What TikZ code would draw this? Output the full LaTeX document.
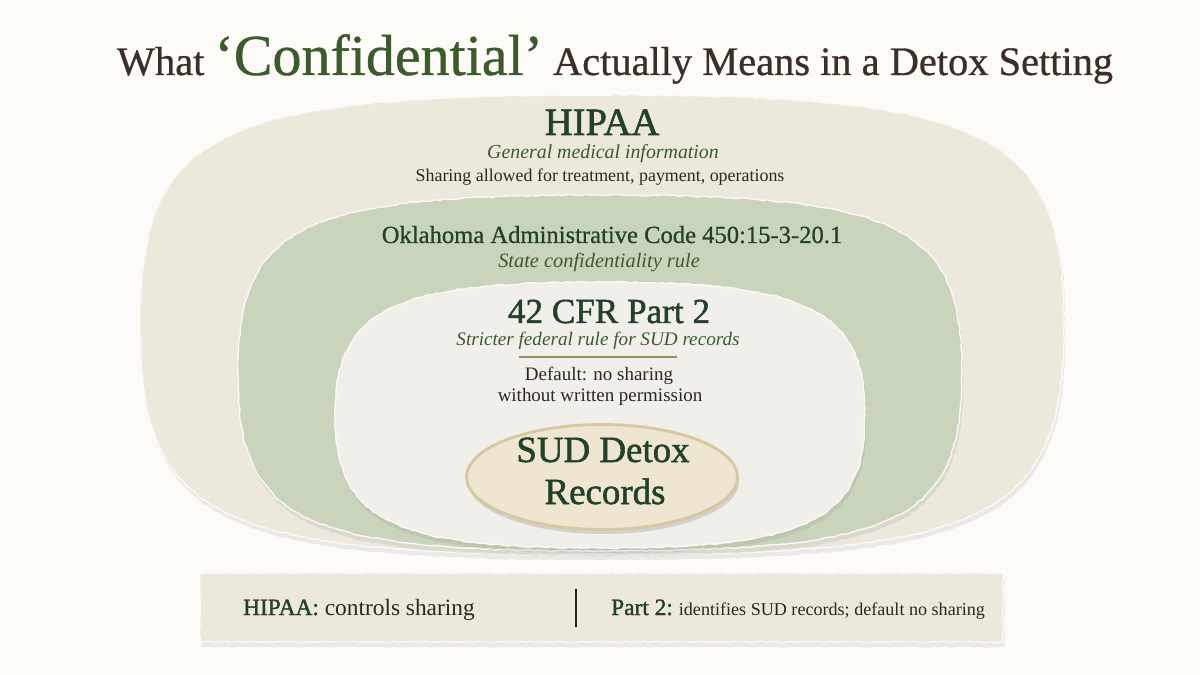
\documentclass[tikz,border=0pt]{standalone}
\usepackage{fontspec}
\setmainfont{Liberation Serif}
\newfontfamily\heavy{Liberation Serif}[FakeBold=1.4]
\newfontfamily\halfheavy{Liberation Serif}[FakeBold=0.7]
\usetikzlibrary{shapes.geometric,shadows,decorations.pathmorphing}

\definecolor{backdrop}{HTML}{FCFBF8}
\definecolor{cream}{HTML}{ECE8DC}
\definecolor{sage}{HTML}{C9D4BC}
\definecolor{pale}{HTML}{F1EFEA}
\definecolor{wheat}{HTML}{EFE6D2}
\definecolor{rim}{HTML}{D8C79F}
\definecolor{forest}{HTML}{22402A}
\definecolor{leaf}{HTML}{3C5A2E}
\definecolor{ink}{HTML}{2B2823}
\definecolor{umber}{HTML}{3B2E24}
\definecolor{olive}{HTML}{9A8C5E}

% squarish oval: centre x, centre y, half width, half height, squareness
\newcommand\blobpath[5]{(#1+#3,#2) .. controls (#1+#3,#2+#5*#4) and (#1+#5*#3,#2+#4) .. (#1,#2+#4)
  .. controls (#1-#5*#3,#2+#4) and (#1-#3,#2+#5*#4) .. (#1-#3,#2)
  .. controls (#1-#3,#2-#5*#4) and (#1-#5*#3,#2-#4) .. (#1,#2-#4)
  .. controls (#1+#5*#3,#2-#4) and (#1+#3,#2-#5*#4) .. (#1+#3,#2) -- cycle}

\begin{document}
\begin{tikzpicture}[x=0.02cm,y=-0.02cm,
  sheet/.style={draw=white!75!cream,line width=0.8pt,
    decorate,decoration={random steps,segment length=2.5pt,amplitude=0.4pt},
    drop shadow={shadow xshift=0.3mm,shadow yshift=-1mm,opacity=0.1,fill=black!70}},
  core/.style={ellipse,draw=rim,line width=1.6pt,fill=wheat,inner sep=0pt,
    minimum width=5.42cm,minimum height=2.1cm,
    drop shadow={shadow xshift=0.3mm,shadow yshift=-0.9mm,opacity=0.18,fill=black!70}},
  ttl/.style={anchor=base,text=umber,font=\halfheavy\fontsize{23}{27}\selectfont},
  lawname/.style={anchor=base,text=forest},
  lawdesc/.style={anchor=base,text=leaf,font=\fontsize{11.3}{13}\selectfont\itshape},
  lawnote/.style={anchor=base,text=ink,font=\fontsize{10.2}{12}\selectfont},
  corelbl/.style={anchor=base,text=forest,font=\heavy\fontsize{21}{24}\selectfont},
  keylbl/.style={anchor=base west,text=ink}]

\fill[backdrop] (0,0) rectangle (1200,675);
\useasboundingbox (0,0) rectangle (1200,675);

% nested layers
\fill[sheet,fill=cream] \blobpath{602}{325}{462}{230}{0.84};
\fill[sheet,fill=sage] \blobpath{600}{373}{362}{178}{0.83};
\fill[sheet,fill=pale] \blobpath{600}{415}{265}{133}{0.79};
\node[core] (sud) at (602,477) {};
\fill[sheet,fill=cream] (200,573) rectangle (1003,642);

% title
\node[ttl] (title) at (615,75) {What \textcolor{leaf}{\fontsize{33}{36}\selectfont‘Confidential’} Actually Means in a Detox Setting};

% HIPAA
\node[lawname,font=\heavy\fontsize{22}{26}\selectfont] (hipaa) at (602,135) {HIPAA};
\node[lawdesc] (hipaadesc) at (603,159) {General medical information};
\node[lawnote] (hipaanote) at (600,182) {Sharing allowed for treatment, payment, operations};

% state rule
\node[lawname,font=\halfheavy\fontsize{14}{16}\selectfont] (okac) at (612,243) {Oklahoma Administrative Code 450:15-3-20.1};
\node[lawdesc,font=\fontsize{11.6}{13}\selectfont\itshape] (okacdesc) at (599,268) {State confidentiality rule};

% 42 CFR Part 2
\node[lawname,font=\heavy\fontsize{20}{24}\selectfont] (cfr) at (609,323) {42 CFR Part 2};
\node[lawdesc,font=\fontsize{10.9}{13}\selectfont\itshape] (cfrdesc) at (598,346) {Stricter federal rule for SUD records};
\draw[olive,line width=0.9pt] (519,357) -- (677,357);
\node[lawnote,font=\fontsize{10.8}{12}\selectfont] (cfrnote) at (599,380) {Default: no sharing};
\node[lawnote,font=\fontsize{10.8}{12}\selectfont] (cfrnotetwo) at (600,401) {without written permission};

% core records
\node[corelbl] (sudtop) at (603,462) {SUD Detox};
\node[corelbl] (sudbot) at (605,504) {Records};

% key strip
\node[keylbl,font=\fontsize{13.3}{15}\selectfont] (keyleft) at (237,615) {\textcolor{forest}{\heavy HIPAA:} controls sharing};
\draw[ink,line width=0.8pt] (576,589) -- (576,627);
\node[keylbl,font=\fontsize{10.3}{12}\selectfont] (keyright) at (605,615) {\textcolor{forest}{\heavy\fontsize{13.3}{15}\selectfont Part 2:} identifies SUD records; default no sharing};
\end{tikzpicture}
\end{document}
